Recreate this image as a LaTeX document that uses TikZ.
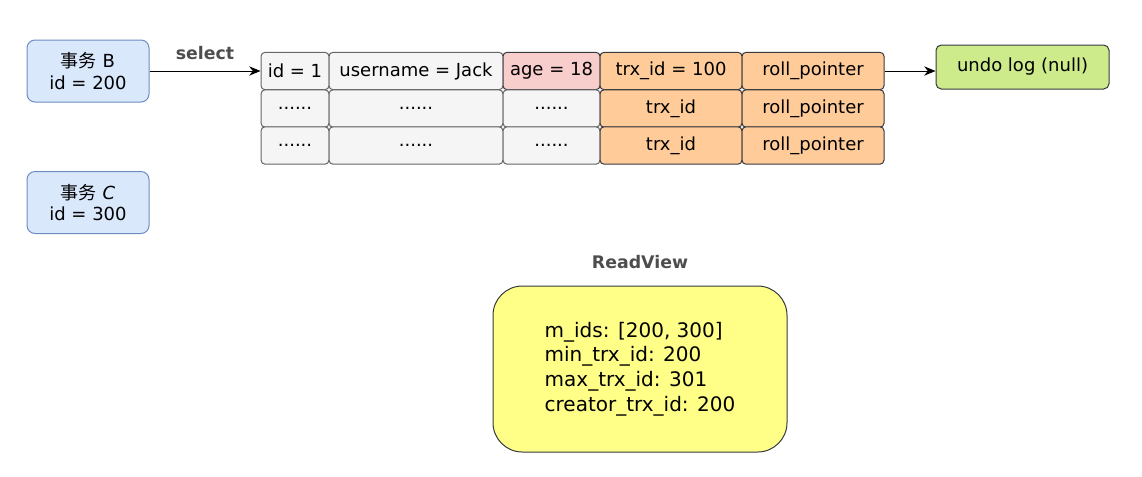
\documentclass[tikz,border=0pt]{standalone}
\usepackage{fontspec}
\setmainfont{DejaVu Sans}
\newfontfamily\cjk{Noto Sans CJK SC}
\usetikzlibrary{positioning,arrows.meta}

\definecolor{txfill}{HTML}{DAE8FC}
\definecolor{txline}{HTML}{6C8EBF}
\definecolor{cellfill}{HTML}{F5F5F5}
\definecolor{cellline}{HTML}{666666}
\definecolor{agefill}{HTML}{F8CECC}
\definecolor{trxfill}{HTML}{FFCC99}
\definecolor{darkline}{HTML}{36393D}
\definecolor{undofill}{HTML}{CDEB8B}
\definecolor{rvfill}{HTML}{FFFF88}
\definecolor{labelgray}{HTML}{4D4D4D}

\begin{document}
\begin{tikzpicture}[x=0.75pt,y=-0.75pt,>={Stealth[length=8.5pt,width=7pt]},line width=0.75pt,
    font=\fontsize{13.5}{16}\selectfont,
    tx/.style={draw=txline,fill=txfill,rounded corners=6pt,minimum width=91.5pt,minimum height=46.5pt,align=center,inner sep=0pt},
    cell/.style={draw=cellline,fill=cellfill,rounded corners=3pt,minimum width=#1,minimum height=28pt,inner sep=0pt},
    hidden/.style={cell=#1,draw=darkline,fill=trxfill},
    lbl/.style={font=\fontsize{13}{15}\selectfont\bfseries,text=labelgray}]
   \useasboundingbox (0,0) rectangle (1142,476);

   % トランザクション
   \node[tx] (txB) at (88,71) {{\cjk 事务} B\\id = 200};
   \node[tx] (txC) at (88,202.5) {{\cjk 事务} \textit{C}\\id = 300};

   % 行データ
   \node[cell=51pt] (r1c1) at (295,71) {id = 1};
   \node[cell=130.5pt] (r1c2) at (416,71) {username = Jack};
   \node[cell=72.75pt,fill=agefill,draw=darkline] (r1c3) at (551.5,71) {age = 18};
   \node[hidden=106.5pt] (r1c4) at (671,71) {trx\_id = 100};
   \node[hidden=106.5pt] (r1c5) at (813,71) {roll\_pointer};
   \foreach \r/\y in {2/108.5,3/145.5}{
      \node[cell=51pt] (r\r c1) at (295,\y) {......};
      \node[cell=130.5pt] (r\r c2) at (416,\y) {......};
      \node[cell=72.75pt] (r\r c3) at (551.5,\y) {......};
      \node[hidden=106.5pt] (r\r c4) at (671,\y) {trx\_id};
      \node[hidden=106.5pt] (r\r c5) at (813,\y) {roll\_pointer};
   }

   \node[draw=darkline,fill=undofill,rounded corners=4pt,minimum width=129.75pt,minimum height=33pt] (undo) at (1022.5,67) {undo log (null)};

   % 矢印
   \draw[->] (txB.east) -- node[lbl,above=5pt]{select} (r1c1.west);
   \draw[->] (r1c5.east) -- (undo.west |- r1c5.east);

   % ReadView
   \node[draw=darkline,fill=rvfill,rounded corners=22pt,minimum width=220.5pt,minimum height=124.5pt,align=left,font=\fontsize{15}{18.5}\selectfont] (rv) at (640,369)
      {m\_ids: [200, 300]\\min\_trx\_id: 200\\max\_trx\_id: 301\\creator\_trx\_id: 200};
   \node[lbl,above=9pt of rv] (rvlabel) {ReadView};
\end{tikzpicture}
\end{document}
